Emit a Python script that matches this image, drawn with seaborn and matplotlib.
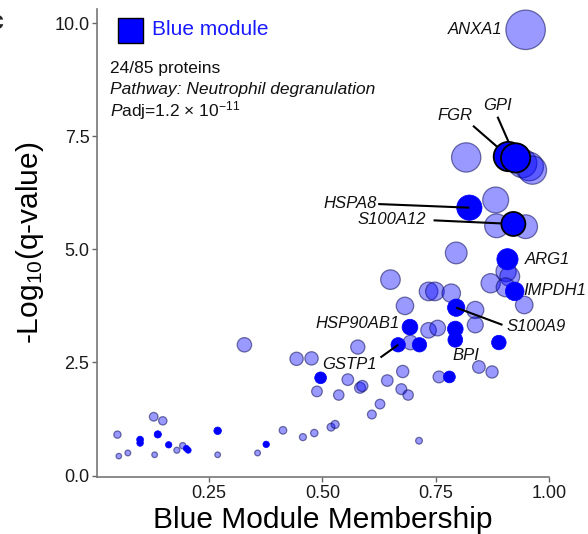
import matplotlib
matplotlib.use("Agg")
import numpy as np
import pandas as pd
import matplotlib.pyplot as plt
import seaborn as sns

sns.set_theme(style="ticks")
plt.rcParams['font.family'] = ['Liberation Sans', 'DejaVu Sans']
plt.rcParams['mathtext.fontset'] = 'custom'
plt.rcParams['mathtext.rm'] = 'Liberation Sans'
plt.rcParams['mathtext.it'] = 'Liberation Sans:italic'

# Blue module proteins not in the pathway
other_mm = [0.048, 0.051, 0.071, 0.128, 0.148, 0.130, 0.179, 0.192, 0.269, 0.357,
            0.413, 0.328, 0.443, 0.476, 0.488, 0.536, 0.556, 0.457, 0.482, 0.519,
            0.528, 0.578, 0.583, 0.588, 0.643, 0.677, 0.674, 0.689, 0.627, 0.609,
            0.757, 0.694, 0.734, 0.754, 0.682, 0.650, 0.734, 0.748, 0.784, 0.795,
            0.837, 0.837, 0.845, 0.874, 0.871, 0.905, 0.913, 0.904, 0.945, 0.882,
            0.884, 0.948, 0.817, 0.941, 0.956, 0.963, 0.948, 0.713]
other_q = [0.905, 0.43, 0.50, 1.30, 1.21, 0.46, 0.56, 0.66, 0.46, 0.50,
           1.00, 2.89, 2.58, 2.59, 1.86, 1.78, 2.12, 0.85, 0.94, 1.07,
           1.13, 2.84, 1.94, 1.98, 2.10, 2.30, 1.91, 1.78, 1.58, 1.35,
           2.18, 2.94, 3.21, 3.26, 3.75, 4.33, 4.07, 4.07, 4.03, 4.92,
           3.66, 3.33, 2.40, 2.29, 4.25, 4.51, 4.40, 4.16, 3.77, 6.09,
           5.52, 5.50, 7.03, 6.90, 6.83, 6.75, 9.85, 0.77]
other_gene = [''] * 56 + ['ANXA1', '']

# Pathway (neutrophil degranulation) proteins
path_mm = [0.098, 0.098, 0.137, 0.161, 0.204, 0.200, 0.269, 0.376, 0.496, 0.780,
           0.667, 0.714, 0.693, 0.793, 0.793, 0.795, 0.889, 0.924, 0.908, 0.824]
path_q = [0.795, 0.72, 0.91, 0.68, 0.56, 0.60, 0.99, 0.69, 2.16, 2.18,
          2.89, 2.89, 3.28, 3.24, 3.00, 3.71, 2.94, 4.07, 4.78, 5.92]
path_gene = ['', '', '', '', '', '', '', '', '', '',
             'GSTP1', '', 'HSP90AB1', '', 'BPI', 'S100A9', '', 'IMPDH1', 'ARG1', 'HSPA8']

# Hub proteins of the pathway, drawn with an outline
hub_mm = [0.910, 0.926, 0.921]
hub_q = [7.05, 7.02, 5.56]
hub_gene = ['FGR', 'GPI', 'S100A12']

x_ticks = [0.25, 0.50, 0.75, 1.00]
x_tick_labels = ['0.25', '0.50', '0.75', '1.00']
y_ticks = [0.0, 2.5, 5.0, 7.5, 10.0]
y_tick_labels = ['0.0', '2.5', '5.0', '7.5', '10.0']

others = pd.DataFrame({'mm': other_mm, 'q': other_q, 'gene': other_gene})
pathway = pd.DataFrame({'mm': path_mm, 'q': path_q, 'gene': path_gene})
hubs = pd.DataFrame({'mm': hub_mm, 'q': hub_q, 'gene': hub_gene})

DPI = 100
fig = plt.figure(figsize=(5.88, 5.34), dpi=DPI)
ax = fig.add_axes([0.165, 0.106, 0.769, 0.878])


def marker_area(q):
    # radius grows linearly with -log10(q); returned as points^2 for scatter
    r_px = 2.8 + 1.8 * (np.asarray(q) - 0.45)
    d_pt = 2 * r_px * 72 / DPI
    return d_pt ** 2


sns.scatterplot(data=others, x='mm', y='q', ax=ax, s=marker_area(others['q']),
                color=(0, 0, 1, 0.4), edgecolor=(0.05, 0.05, 0.35, 0.55),
                linewidth=0.9, legend=False, zorder=3)
sns.scatterplot(data=pathway, x='mm', y='q', ax=ax, s=marker_area(pathway['q']),
                color='#0000ff', edgecolor='#0000ff', linewidth=0.5,
                legend=False, zorder=4)
sns.scatterplot(data=hubs, x='mm', y='q', ax=ax, s=marker_area(hubs['q']),
                color='#0000ff', edgecolor='black', linewidth=1.3,
                legend=False, zorder=5)

# gene labels: text anchor (x, y, ha) and optional leader start point
label_layout = {
    'ANXA1':    (0.897, 9.85, 'right', None),
    'FGR':      (0.792, 7.95, 'center', (0.832, 7.73)),
    'GPI':      (0.886, 8.18, 'center', (0.886, 7.93)),
    'HSPA8':    (0.619, 6.02, 'right', (0.623, 6.00)),
    'S100A12':  (0.728, 5.66, 'right', (0.745, 5.64)),
    'ARG1':     (0.946, 4.78, 'left', None),
    'IMPDH1':   (0.944, 4.08, 'left', None),
    'S100A9':   (0.905, 3.29, 'left', (0.897, 3.33)),
    'HSP90AB1': (0.670, 3.36, 'right', None),
    'GSTP1':    (0.619, 2.45, 'right', (0.628, 2.61)),
    'BPI':      (0.817, 2.65, 'center', None),
}
labelled = pd.concat([others, pathway, hubs])
labelled = labelled[labelled['gene'] != '']
for _, row in labelled.iterrows():
    tx, ty, ha, start = label_layout[row['gene']]
    ax.text(tx, ty, row['gene'], ha=ha, va='center', fontsize=12,
            style='italic', color='#111111', zorder=7)
    if start is not None:
        ax.plot([start[0], row['mm']], [start[1], row['q']], color='black',
                lw=1.5, zorder=4.5, solid_capstyle='butt')

ax.set_xlim(0.003, 1.0)
ax.set_ylim(-0.04, 10.32)
ax.set_xticks(x_ticks)
ax.set_xticklabels(x_tick_labels)
ax.set_yticks(y_ticks)
ax.set_yticklabels(y_tick_labels)
ax.tick_params(axis='both', labelsize=13, labelcolor='#1a1a1a', color='#666666',
               length=3.5, width=1.0, pad=2)
for side in ('top', 'right'):
    ax.spines[side].set_visible(False)
for side in ('left', 'bottom'):
    ax.spines[side].set_color('#777777')
    ax.spines[side].set_linewidth(1.2)

ax.set_xlabel('Blue Module Membership', fontsize=21.5, color='black', labelpad=3)
ax.set_ylabel(r'-Log$_{10}$(q-value)', fontsize=21.5, color='black', labelpad=6)

# module key
ax.scatter([0.074], [0.955], transform=ax.transAxes, marker='s', s=(25 * 0.72) ** 2,
           color='#0000ff', edgecolor='black', linewidth=1.0, zorder=8, clip_on=False)
ax.text(0.122, 0.955, 'Blue module', transform=ax.transAxes, fontsize=15,
        color='#1a1aff', va='center', ha='left')

ax.text(0.029, 0.872, '24/85 proteins', transform=ax.transAxes, fontsize=12.5,
        va='center', ha='left', color='#111111')
ax.text(0.029, 0.828, 'Pathway: Neutrophil degranulation', transform=ax.transAxes,
        fontsize=12.5, style='italic', va='center', ha='left', color='#111111')
ax.text(0.029, 0.783, r'$\mathit{P}$adj=1.2 × 10$^{-11}$', transform=ax.transAxes,
        fontsize=12.5, va='center', ha='left', color='#111111')

fig.text(4 / 588, 1 - 22 / 534, 'c', fontsize=18, fontweight='bold',
         ha='right', va='center')

fig.savefig('out.png', dpi=DPI)
